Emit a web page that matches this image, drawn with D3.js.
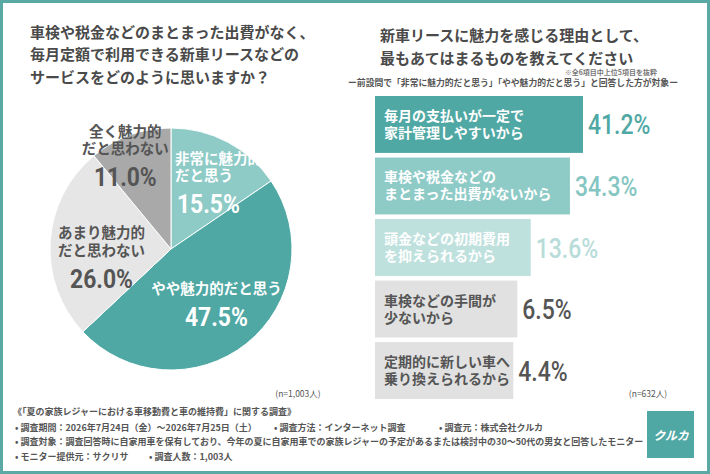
<!DOCTYPE html>
<html>
<head>
<meta charset="utf-8">
<script src="https://cdn.jsdelivr.net/npm/d3@7"></script>
<style>
  body { margin: 0; background: #fff; }
  svg { display: block; }
  text { font-family: "Noto Sans CJK JP", "Noto Sans", sans-serif; font-weight: 700; }
  .num { font-family: Roboto, "DejaVu Sans", sans-serif; }
</style>
</head>
<body>
<svg id="chart" width="710" height="474"></svg>
<script>
// left question (pie)
const leftTitle = ["車検や税金などのまとまった出費がなく、", "毎月定額で利用できる新車リースなどの", "サービスをどのように思いますか？"];
const pieNames = [["非常に魅力的", "だと思う"], ["やや魅力的だと思う"], ["あまり魅力的", "だと思わない"], ["全く魅力的", "だと思わない"]];
const pieValues = [15.5, 47.5, 26.0, 11.0];
const pieN = "(n=1,003人)";

// right question (bars)
const rightTitle = ["新車リースに魅力を感じる理由として、", "最もあてはまるものを教えてください"];
const rightNote = "※全6項目中上位5項目を抜粋";
const rightSub = "ー前設問で「非常に魅力的だと思う」「やや魅力的だと思う」と回答した方が対象ー";
const reasonNames = [
  ["毎月の支払いが一定で", "家計管理しやすいから"],
  ["車検や税金などの", "まとまった出費がないから"],
  ["頭金などの初期費用", "を抑えられるから"],
  ["車検などの手間が", "少ないから"],
  ["定期的に新しい車へ", "乗り換えられるから"]
];
const reasonValues = [41.2, 34.3, 13.6, 6.5, 4.4];
const reasonN = "(n=632人)";

// survey notes
const noteTitle = "《「夏の家族レジャーにおける車移動費と車の維持費」に関する調査》";
const noteLines = [
  ["• 調査期間：2026年7月24日（金）～2026年7月25日（土）", "• 調査方法：インターネット調査", "• 調査元：株式会社クルカ"],
  ["• 調査対象：調査回答時に自家用車を保有しており、今年の夏に自家用車での家族レジャーの予定があるまたは検討中の30～50代の男女と回答したモニター"],
  ["• モニター提供元：サクリサ", "• 調査人数：1,003人"]
];

const teal = "#4fa8a4";
const pieColors = ["#8ecbc7", teal, "#e6e6e6", "#a9a9a9"];
const pieText = ["#fff", "#fff", "#555", "#555"];
const barColors = ["#4fa8a4", "#8ecbc7", "#bfe1de", "#e1e1e1", "#e1e1e1"];
const barText = ["#fff", "#fff", "#fff", "#555", "#555"];
const valueColors = ["#4fa8a4", "#84c6c2", "#b7dcd9", "#555", "#555"];

const svg = d3.select("#chart");

// frame
svg.append("rect")
  .attr("x", 1.5).attr("y", 1.5)
  .attr("width", 707).attr("height", 471)
  .attr("fill", "#fff")
  .attr("stroke", "#5aa9a5")
  .attr("stroke-width", 3);

// condensed look for the numbers
function numText(sel, x, y, sx) {
  return sel.attr("class", "num")
    .attr("transform", `translate(${x},${y}) scale(${sx},1)`);
}

// ---- left: pie
svg.append("g")
  .selectAll("text")
  .data(leftTitle)
  .enter()
  .append("text")
  .attr("x", 30)
  .attr("y", (d, i) => 37.5 + i * 22.5)
  .attr("font-size", 15)
  .attr("fill", "#4a4a4a")
  .text(d => d);

const cx = 171, cy = 249, radius = 121;
const pie = d3.pie().sort(null).value(d => d);
const arcs = pie(pieValues);
const arc = d3.arc().innerRadius(0).outerRadius(radius);

const pieG = svg.append("g").attr("transform", `translate(${cx},${cy})`);

pieG.selectAll("path")
  .data(arcs)
  .enter()
  .append("path")
  .attr("d", arc)
  .attr("fill", (d, i) => pieColors[i])
  .attr("stroke", "#fff")
  .attr("stroke-width", 1);

// small slices get their label pushed out toward the rim
const labelArc = d => {
  const r = d.value < 12 ? radius * 0.87 : radius * 0.6;
  return d3.arc().innerRadius(r).outerRadius(r).centroid(d);
};
const labelAnchor = ["start", "middle", "middle", "middle"];
const labelNudge = [[-30, -3], [0, -3], [3, 12], [-10, 5]];

const labels = pieG.selectAll("g.pieLabel")
  .data(arcs)
  .enter()
  .append("g")
  .attr("class", "pieLabel")
  .attr("transform", (d, i) => {
    const c = labelArc(d);
    return `translate(${c[0] + labelNudge[i][0]},${c[1] + labelNudge[i][1]})`;
  });

labels.each(function(d, i) {
  const g = d3.select(this);
  const lines = pieNames[i];
  const top = lines.length === 2 ? -23 : -14;
  lines.forEach((t, j) => {
    g.append("text")
      .attr("text-anchor", labelAnchor[i])
      .attr("y", top + j * 17.5 + 5)
      .attr("font-size", 14.5)
      .attr("fill", pieText[i])
      .text(t);
  });
  g.append("text")
    .call(numText, labelAnchor[i] === "start" ? 2 : 0, top + (lines.length - 1) * 17.5 + 28 + 9, 0.88)
    .attr("text-anchor", labelAnchor[i])
    .attr("font-size", 26)
    .attr("fill", pieText[i])
    .text(d.value.toFixed(1) + "%");
});

svg.append("text")
  .attr("x", 298)
  .attr("y", 397)
  .attr("text-anchor", "middle")
  .attr("font-size", 8.5)
  .style("font-weight", 400)
  .attr("fill", "#555")
  .text(pieN);

// ---- right: bars
svg.append("g")
  .selectAll("text")
  .data(rightTitle)
  .enter()
  .append("text")
  .attr("x", 380)
  .attr("y", (d, i) => 40.5 + i * 23)
  .attr("font-size", 15)
  .attr("fill", "#4a4a4a")
  .text(d => d);

svg.append("text")
  .attr("x", 657)
  .attr("y", 75)
  .attr("text-anchor", "end")
  .attr("font-size", 7)
  .attr("fill", "#777")
  .text(rightNote);

svg.append("text")
  .attr("x", 513)
  .attr("y", 86)
  .attr("text-anchor", "middle")
  .attr("font-size", 8.8)
  .attr("fill", "#555")
  .text(rightSub);

const barX = 375;
const y = d3.scaleBand()
  .domain(d3.range(reasonValues.length))
  .range([96, 399])
  .paddingInner(0.075);

// bars are drawn with a floor so every label fits inside
const w = d3.scaleLinear()
  .domain([0, d3.max(reasonValues)])
  .range([130, 208]);

const bars = svg.append("g")
  .selectAll("g.bar")
  .data(reasonValues)
  .enter()
  .append("g")
  .attr("class", "bar")
  .attr("transform", (d, i) => `translate(${barX},${y(i)})`);

bars.append("rect")
  .attr("width", d => w(d))
  .attr("height", y.bandwidth())
  .attr("fill", (d, i) => barColors[i]);

bars.each(function(d, i) {
  const g = d3.select(this);
  const mid = y.bandwidth() / 2;
  reasonNames[i].forEach((t, j) => {
    g.append("text")
      .attr("x", 9)
      .attr("y", mid - 8.5 + j * 17 + 5)
      .attr("font-size", 14)
      .attr("fill", barText[i])
      .text(t);
  });
});

bars.append("text")
  .each(function(d) {
    numText(d3.select(this), w(d) + 5, y.bandwidth() / 2 + 10, 0.85);
  })
  .attr("font-size", 27)
  .style("font-weight", 500)
  .attr("fill", (d, i) => valueColors[i])
  .text(d => d.toFixed(1) + "%");

svg.append("text")
  .attr("x", 648)
  .attr("y", 397)
  .attr("text-anchor", "middle")
  .attr("font-size", 8.5)
  .style("font-weight", 400)
  .attr("fill", "#555")
  .text(reasonN);

// ---- survey notes
const notes = svg.append("g").attr("font-size", 9).attr("fill", "#555");

notes.append("text")
  .attr("x", 13)
  .attr("y", 415)
  .text(noteTitle);

const itemX = [[15, 274, 439], [15], [15, 149]];
noteLines.forEach((line, i) => {
  line.forEach((t, j) => {
    notes.append("text")
      .attr("x", itemX[i][j])
      .attr("y", 430.5 + i * 14.5)
      .text(t);
  });
});

// logo
svg.append("rect")
  .attr("x", 647).attr("y", 411)
  .attr("width", 47).attr("height", 47)
  .attr("fill", teal);

svg.append("text")
  .attr("x", 671)
  .attr("y", 440)
  .attr("text-anchor", "middle")
  .attr("font-size", 12)
  .attr("font-style", "italic")
  .attr("fill", "#fff")
  .text("クルカ");
</script>
</body>
</html>
